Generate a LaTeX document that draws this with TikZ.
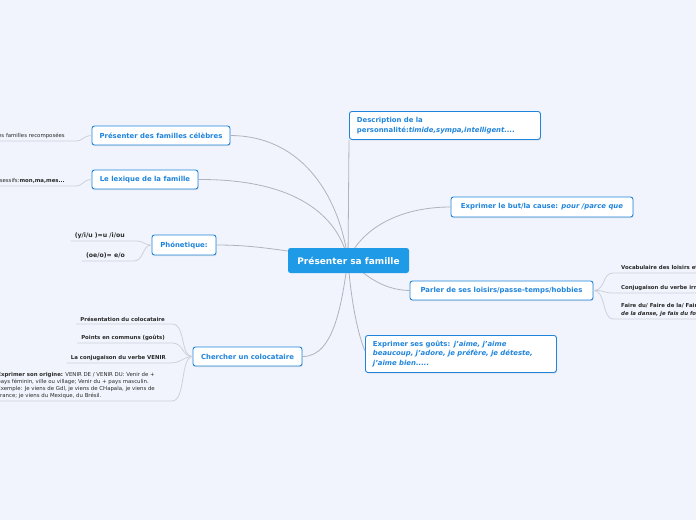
\documentclass[tikz,border=0pt]{standalone}
\usepackage{fontspec}
\setmainfont{DejaVu Sans}
\usetikzlibrary{shadows}
\definecolor{bg}{HTML}{F1F4FC}
\definecolor{nodeblue}{HTML}{1F84DC}
\definecolor{rootblue}{HTML}{1E9AE6}
\definecolor{conn}{HTML}{ADB3C0}
\definecolor{leafline}{HTML}{CDD1D9}
\definecolor{leaftext}{HTML}{2A2A2A}
\tikzset{
  topic/.style={draw=nodeblue, line width=0.9pt, fill=white, rounded corners=2.5pt,
    text=nodeblue, font=\fontsize{6.9}{9.6}\selectfont\bfseries,
    drop shadow={opacity=0.18, shadow xshift=0.6pt, shadow yshift=-1.2pt}},
  rootbox/.style={fill=rootblue, rounded corners=2.5pt, text=white,
    font=\fontsize{9}{10}\selectfont\bfseries},
  conn/.style={draw=conn, line width=0.8pt},
  lline/.style={draw=leafline, line width=0.8pt},
  leaf/.style={text=leaftext, font=\fontsize{5.4}{7}\selectfont\bfseries, inner xsep=4pt, inner ysep=2pt},
  leafr/.style={text=leaftext, font=\fontsize{5.4}{7}\selectfont, inner xsep=4pt, inner ysep=2pt},
}
\begin{document}
\begin{tikzpicture}[x=1pt,y=-1pt]
\fill[bg] (0,0) rectangle (696,520);
\useasboundingbox (0,0) rectangle (696,520);

% root (coordinate for connectors)
\coordinate (rc) at (348,260);

% topics
\node[topic, minimum width=138pt, minimum height=19pt] (fam) at (161,135.5) {Présenter des familles célèbres};
\node[topic, minimum width=106pt, minimum height=19pt] (lex) at (145,179.5) {Le lexique de la famille};
\node[topic, minimum width=64pt, minimum height=20pt] (pho) at (184,245) {Phónetique:};
\node[topic, minimum width=109pt, minimum height=19pt] (col) at (247.5,356.5) {Chercher un colocataire};
\node[topic, anchor=north west, text width=176pt, align=left, inner xsep=7.5pt, inner ysep=3.5pt, minimum height=28pt] (desc) at (349,111)
  {Description de la\\ personnalité:\textit{timide,sympa,intelligent....}};
\node[topic, minimum width=182pt, minimum height=20pt] (but) at (542,207) {Exprimer le but/la cause: \textit{pour /parce que}};
\node[topic, minimum width=183pt, minimum height=19pt] (par) at (501.5,290.5) {Parler de ses loisirs/passe-temps/hobbies};
\node[topic, anchor=north west, text width=176pt, align=left, inner xsep=7.5pt, inner ysep=3.5pt, minimum height=37pt] (gou) at (365,335)
  {Exprimer ses goûts: \textit{j'aime, j'aime}\\ \textit{beaucoup, j'adore, je préfère, je déteste,}\\ \textit{j'aime bien.....}};

% root-to-topic connectors
\draw[conn] (fam.east) .. controls (305,136) and (340,200) .. (rc);
\draw[conn] (lex.east) .. controls (295,179) and (338,215) .. (rc);
\draw[conn] (pho.east) .. controls (255,245) and (280,250) .. (rc);
\draw[conn] (col.east) .. controls (335,357) and (342,300) .. (rc);
\draw[conn] (desc.south west) -- (rc);
\draw[conn] (but.west) .. controls (400,207) and (362,228) .. (rc);
\draw[conn] (par.west) .. controls (380,290) and (362,272) .. (rc);
\draw[conn] ([yshift=3pt]gou.west) .. controls (356,330) and (350,290) .. (rc);

% root
\node[rootbox, minimum width=121pt, minimum height=25pt] (root) at (348.5,260.5) {Présenter sa famille};

% left leaves of fam, lex
\node[leafr, anchor=south east] (l1) at (69,141) {Les familles recomposées};
\draw[lline] (l1.south west) -- (l1.south east) -- (75,141) .. controls (84,141) and (82,136) .. (fam.west);
\node[leafr, anchor=south east] (l2) at (69,186) {Les adjectifs possessifs:\textbf{mon,ma,mes...}};
\draw[lline] (l2.south west) -- (l2.south east) -- (75,186) .. controls (84,186) and (82,180) .. (lex.west);

% phonetique leaves
\node[leaf, anchor=south east, font=\fontsize{6.2}{7}\selectfont\bfseries] (p1) at (129,241) {(y/i/u )=u /i/ou};
\draw[lline] (p1.south west) -- (p1.south east) -- (136,241) .. controls (144,241) and (144,245) .. (pho.west);
\node[leaf, anchor=south east, font=\fontsize{6.2}{7}\selectfont\bfseries] (p2) at (129,261) {(oe/o)= e/o};
\draw[lline] (p2.south west) -- (p2.south east) -- (134,261) .. controls (144,261) and (142,245) .. (pho.west);

% colocataire leaves
\node[leaf, anchor=south east] (c1) at (169,324) {Présentation du colocataire};
\draw[lline] (c1.south west) -- (c1.south east) -- (172,324) .. controls (186,324) and (180,357) .. (col.west);
\node[leaf, anchor=south east] (c2) at (169,343) {Points en communs (goûts)};
\draw[lline] (c2.south west) -- (c2.south east) -- (172,343) .. controls (184,343) and (182,357) .. (col.west);
\node[leaf, anchor=south east] (c3) at (170,363) {La conjugaison du verbe VENIR};
\draw[lline] (c3.south west) -- (c3.south east) .. controls (182,363) and (182,357) .. (col.west);
\node[leafr, anchor=south east, align=left, font=\fontsize{5.4}{6.9}\selectfont] (c4) at (159,401)
  {\textbf{Exprimer son origine:} VENIR DE / VENIR DU: Venir de +\\
   pays féminin, ville ou village; Venir du + pays masculin.\\
   Exemple: Je viens de Gdl, je viens de CHapala, je viens de\\
   France; je viens du Mexique, du Brésil.};
\draw[lline] (c4.south west) -- (c4.south east) -- (172,401) .. controls (186,401) and (180,357) .. (col.west);

% loisirs leaves
\node[leaf, anchor=south west] (r1) at (617,273) {Vocabulaire des loisirs et des sports};
\draw[lline] (par.east) .. controls (606,290) and (602,273) .. (613,273) -- (r1.south east);
\node[leaf, anchor=south west] (r2) at (617,293) {Conjugaison du verbe irrégulier FAIRE};
\draw[lline] (par.east) .. controls (606,290) and (602,293) .. (613,293) -- (r2.south east);
\node[leaf, anchor=south west, align=left, font=\fontsize{5.4}{8}\selectfont\bfseries] (r3) at (617,319)
  {Faire du/ Faire de la/ Faire des: je fais\\ \textit{de la danse, je fais du football}};
\draw[lline] (par.east) .. controls (606,290) and (602,319) .. (613,319) -- (r3.south east);
\end{tikzpicture}
\end{document}
